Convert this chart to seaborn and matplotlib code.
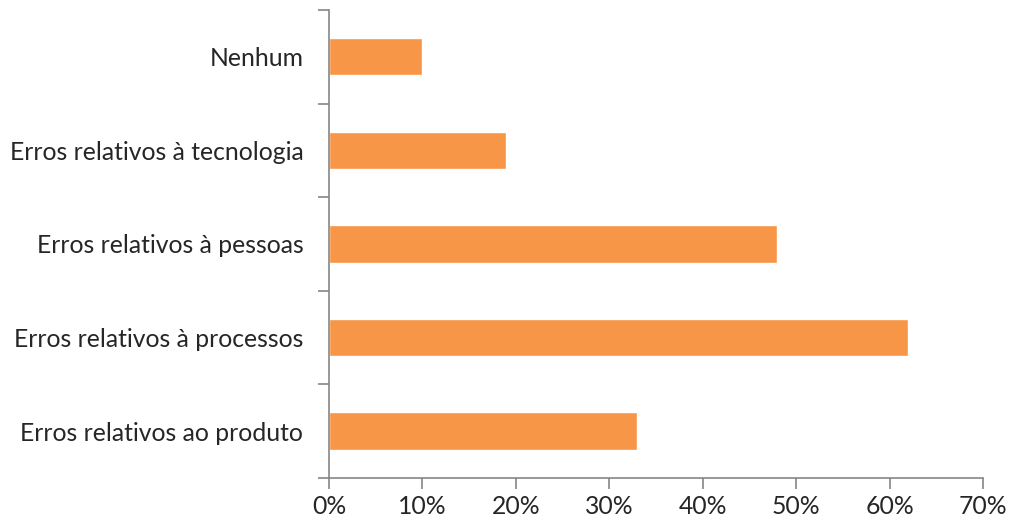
import matplotlib
matplotlib.use("Agg")
import matplotlib.pyplot as plt
from matplotlib.ticker import FixedLocator, PercentFormatter
import seaborn as sns
import pandas as pd

categories = [
    "Nenhum",
    "Erros relativos à tecnologia",
    "Erros relativos à pessoas",
    "Erros relativos à processos",
    "Erros relativos ao produto",
]
values = [10, 19, 48, 62, 33]
x_ticks = [0, 10, 20, 30, 40, 50, 60, 70]

df = pd.DataFrame({"categoria": categories, "valor": values})

sns.set_theme(style="white")
plt.rcParams["font.family"] = ["Lato", "DejaVu Sans"]

fig = plt.figure(figsize=(10.11, 5.24), dpi=100)
ax = fig.add_axes([0.3254, 0.0878, 0.6469, 0.8932])

sns.barplot(data=df, x="valor", y="categoria", orient="h", order=categories,
            color="#F79646", width=0.4, saturation=1, ax=ax)

axis_color = "#868686"
text_color = "#262626"

ax.set_xlim(0, 70)
ax.set_ylim(len(categories) - 0.5, -0.5)
ax.xaxis.set_major_locator(FixedLocator(x_ticks))
ax.xaxis.set_major_formatter(PercentFormatter(decimals=0))
ax.set_xlabel("")
ax.set_ylabel("")

for side in ("top", "right"):
    ax.spines[side].set_visible(False)
for side in ("left", "bottom"):
    ax.spines[side].set_color(axis_color)
    ax.spines[side].set_linewidth(1.2)

# category boundary ticks on the value axis side
ax.yaxis.set_minor_locator(FixedLocator([i - 0.5 for i in range(len(categories) + 1)]))
ax.tick_params(axis="y", which="major", length=0, pad=18.5, labelsize=17.8, labelcolor=text_color)
ax.tick_params(axis="y", which="minor", left=True, length=8, width=1.2, color=axis_color)
ax.tick_params(axis="x", which="major", bottom=True, length=8, width=1.2, color=axis_color,
               pad=4, labelsize=17.8, labelcolor=text_color)

fig.savefig("out.png", dpi=100)
